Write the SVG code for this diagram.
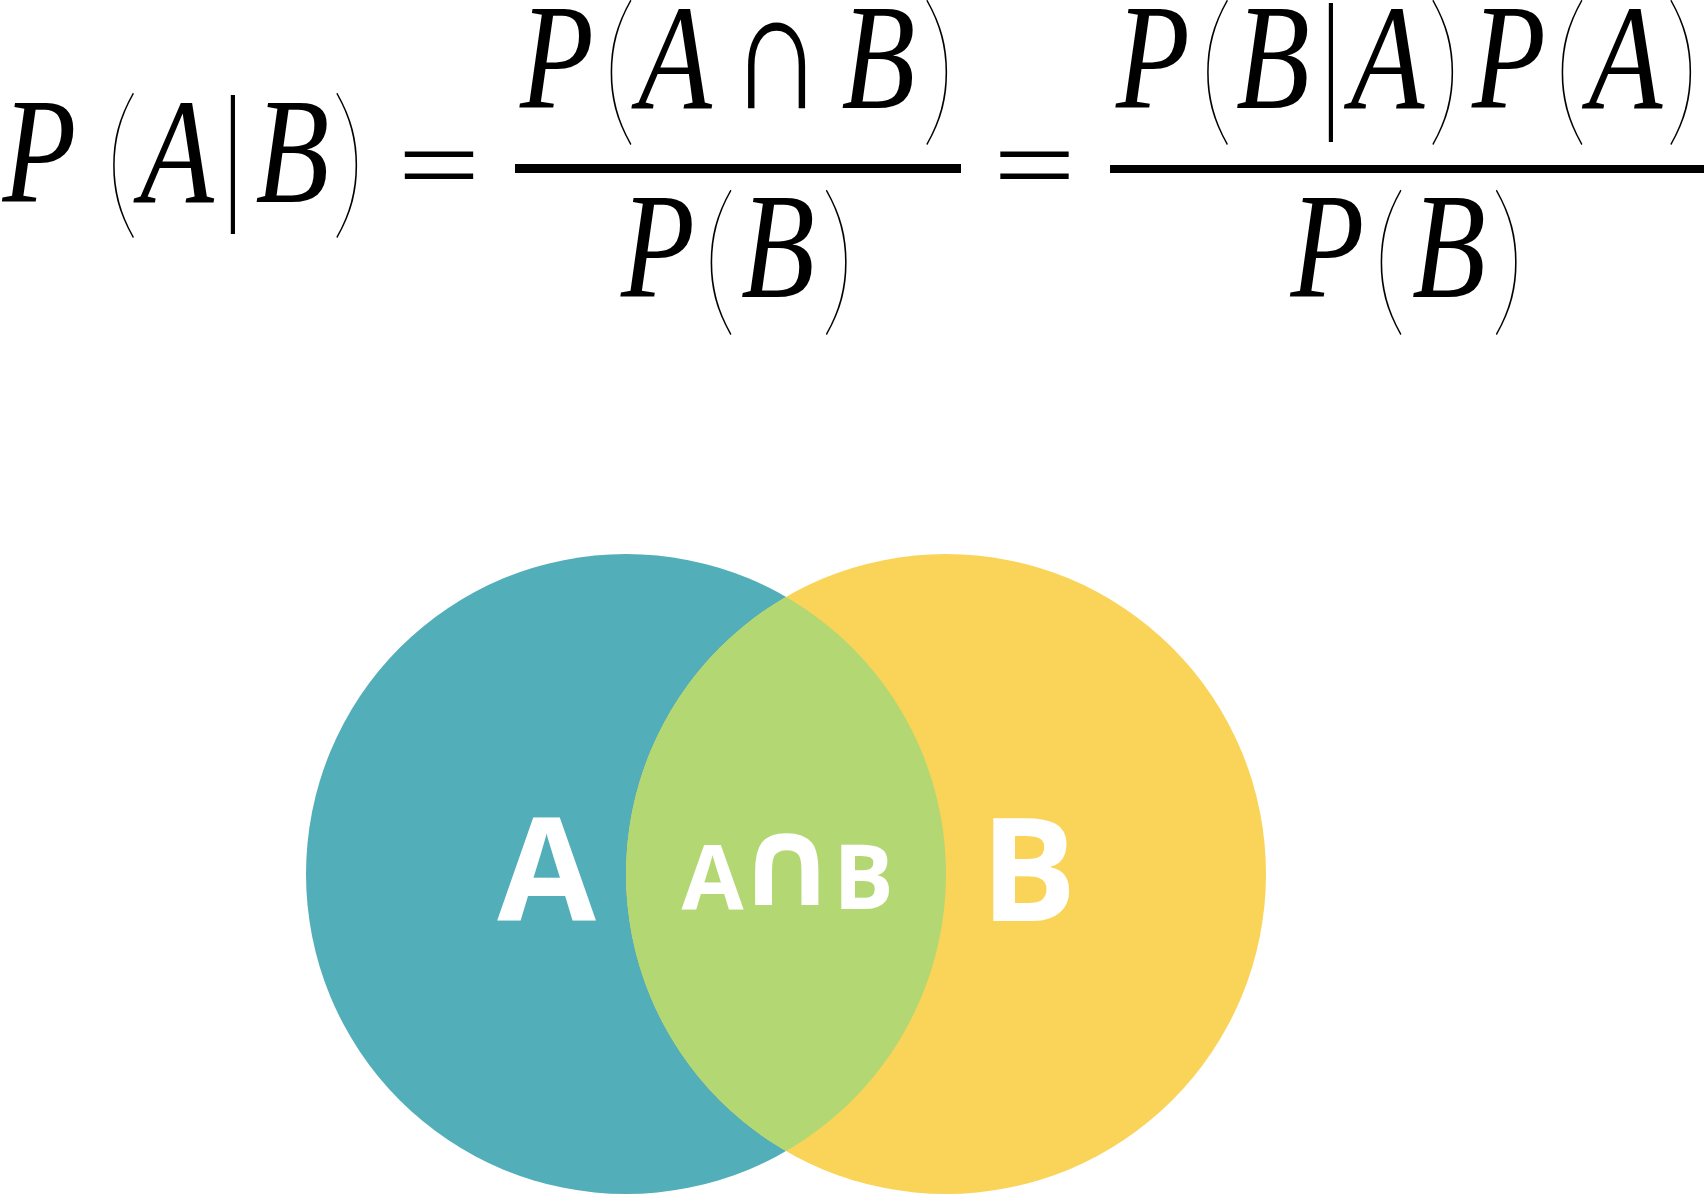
<svg xmlns="http://www.w3.org/2000/svg" width="1706" height="1195" viewBox="0 0 1706 1195">
<style>
.mi{font-family:"Liberation Serif",serif;font-style:italic;font-size:151px;fill:#000;text-anchor:middle}
.mo{font-family:Lato,"Liberation Serif",serif;font-weight:100;font-size:168px;fill:#000;text-anchor:middle}
.vb{font-family:"Liberation Serif",serif;font-size:168px;fill:#000;text-anchor:middle}
.eq{font-family:"Liberation Serif",serif;font-size:140px;fill:#000;text-anchor:middle}
.cap{font-family:"Liberation Serif",serif;font-size:170px;fill:#000;text-anchor:middle}
.bar{fill:#000}
.lbl{font-family:"Open Sans","Liberation Sans",sans-serif;font-weight:bold;fill:#fff;text-anchor:middle}
.cup{font-family:"DejaVu Sans",sans-serif;font-weight:bold}
</style>
<rect width="1706" height="1195" fill="#fff"/>
<g id="formula">
  <g id="lhs">
    <text class="mi" transform="translate(39.5,202) scale(0.8,1)">P</text>
    <text class="mo" transform="translate(122,218) scale(0.85,0.99)">(</text>
    <text class="mi" transform="translate(177,202) scale(0.8,1)">A</text>
    <text class="vb" transform="translate(233,201) scale(0.5,0.91)">|</text>
    <text class="mi" transform="translate(292.5,202) scale(0.8,1)">B</text>
    <text class="mo" transform="translate(348.5,218) scale(0.85,0.99)">)</text>
    <text class="eq" transform="translate(439,201.7) scale(1.05,0.78)">=</text>
  </g>
  <g id="frac1">
    <text class="mi" transform="translate(557,108) scale(0.8,1)">P</text>
    <text class="mo" transform="translate(619.5,125) scale(0.85,0.99)">(</text>
    <text class="mi" transform="translate(675,108) scale(0.8,1)">A</text>
    <text class="cap" transform="translate(776.5,108) scale(0.75,1)">∩</text>
    <text class="mi" transform="translate(878.5,108) scale(0.8,1)">B</text>
    <text class="mo" transform="translate(938.5,125) scale(0.85,0.99)">)</text>
    <rect class="bar" x="515" y="164" width="446" height="9"/>
    <text class="mi" transform="translate(658,297) scale(0.8,1)">P</text>
    <text class="mo" transform="translate(719.5,315) scale(0.85,0.99)">(</text>
    <text class="mi" transform="translate(778,297) scale(0.8,1)">B</text>
    <text class="mo" transform="translate(838,315) scale(0.85,0.99)">)</text>
  </g>
  <text class="eq" transform="translate(1034.5,201.7) scale(1.05,0.78)">=</text>
  <g id="frac2">
    <text class="mi" transform="translate(1153,108) scale(0.8,1)">P</text>
    <text class="mo" transform="translate(1216,125) scale(0.85,0.99)">(</text>
    <text class="mi" transform="translate(1273,108) scale(0.8,1)">B</text>
    <text class="vb" transform="translate(1331,109) scale(0.5,0.91)">|</text>
    <text class="mi" transform="translate(1387.5,108) scale(0.8,1)">A</text>
    <text class="mo" transform="translate(1444.5,125) scale(0.85,0.99)">)</text>
    <text class="mi" transform="translate(1509,108) scale(0.8,1)">P</text>
    <text class="mo" transform="translate(1570.5,125) scale(0.85,0.99)">(</text>
    <text class="mi" transform="translate(1625.5,108) scale(0.8,1)">A</text>
    <text class="mo" transform="translate(1682.5,125) scale(0.85,0.99)">)</text>
    <rect class="bar" x="1110" y="165" width="594" height="8"/>
    <text class="mi" transform="translate(1327.5,297) scale(0.8,1)">P</text>
    <text class="mo" transform="translate(1389.5,315) scale(0.85,0.99)">(</text>
    <text class="mi" transform="translate(1449,297) scale(0.8,1)">B</text>
    <text class="mo" transform="translate(1508,315) scale(0.85,0.99)">)</text>
  </g>
</g>
<g id="venn">
  <g id="setA">
    <circle cx="626" cy="874" r="320" fill="#52AEB8"/>
  </g>
  <g id="setB">
    <circle cx="946" cy="874" r="320" fill="#F9D459"/>
  </g>
  <g id="intersection">
    <path d="M786,596.9 A320,320 0 0,1 786,1151.1 A320,320 0 0,1 786,596.9 Z" fill="#B3D772"/>
  </g>
  <text class="lbl" x="546.5" y="920" font-size="143">A</text>
  <text class="lbl" x="1028.5" y="921" font-size="143">B</text>
  <text class="lbl" y="909" font-size="90"><tspan x="712.5">A</tspan><tspan class="cup" x="786.5" y="905" font-size="124">∩</tspan><tspan x="863.5" y="909">B</tspan></text>
</g>
</svg>
